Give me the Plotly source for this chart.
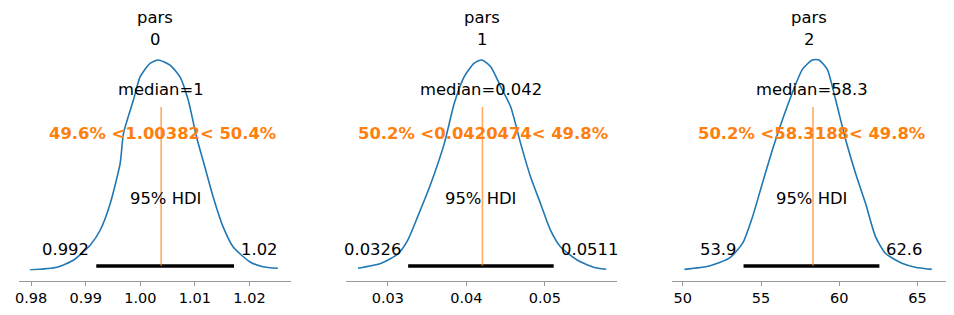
import plotly.graph_objects as go

# ---------------- data ----------------
panel_titles = ["pars<br>0", "pars<br>1", "pars<br>2"]

kde0_x = [0.97976, 0.98474, 0.98779, 0.99084, 0.99266, 0.99449, 0.99631, 0.99692, 0.99874,
          0.99996, 1.00179, 1.00330, 1.00544, 1.00726, 1.00878, 1.01029, 1.01182, 1.01334,
          1.01516, 1.01699, 1.02004, 1.02246, 1.02520]
kde0_y = [0.12, 0.92, 3.09, 7.55, 12.0, 19.9, 31.8, 40.7, 50.6, 57.5, 61.5, 62.5, 61.0,
          57.5, 50.6, 39.7, 30.8, 21.9, 13.0, 7.04, 2.58, 1.10, 0.62]

kde1_x = [0.02620, 0.02915, 0.03127, 0.03254, 0.03380, 0.03549, 0.03719, 0.03846, 0.03973,
          0.04100, 0.04196, 0.04310, 0.04437, 0.04564, 0.04691, 0.04817, 0.04944, 0.05071,
          0.05198, 0.05410, 0.05621, 0.05782]
kde1_y = [0.84, 2.85, 6.59, 12.2, 21.6, 35.0, 51.0, 67.1, 77.8, 83.2, 84.5, 81.8, 73.8,
          65.7, 51.0, 37.6, 26.9, 16.2, 9.52, 4.18, 1.25, 0.44]

kde2_x = [50.10, 51.69, 52.97, 53.82, 54.46, 55.09, 55.73, 56.37, 57.00, 57.64, 58.28, 58.70,
          59.23, 59.76, 60.40, 61.03, 61.67, 62.31, 62.94, 64.00, 64.85, 65.91]
kde2_y = [0.0009, 0.0038, 0.0104, 0.0232, 0.0460, 0.0746, 0.1031, 0.1287, 0.1516, 0.1715,
          0.1795, 0.1795, 0.1715, 0.1458, 0.1116, 0.0831, 0.0574, 0.0288, 0.0146, 0.0061,
          0.0027, 0.0009]

hdi_low = [0.99193, 0.03258, 53.88]
hdi_high = [1.01717, 0.05112, 62.56]
medians = [1.00375, 0.04192, 58.24]
median_labels = ["median=1", "median=0.042", "median=58.3"]
ref_vals = [1.00382, 0.0420474, 58.3188]
means = [1.00398, 0.04215, 58.25]
ref_texts = ["49.6% <1.00382< 50.4%", "50.2% <0.0420474< 49.8%", "50.2% <58.3188< 49.8%"]
hdi_low_labels = ["0.992", "0.0326", "53.9"]
hdi_high_labels = ["1.02", "0.0511", "62.6"]

tick_vals = [[0.98, 0.99, 1.00, 1.01, 1.02], [0.03, 0.04, 0.05], [50, 55, 60, 65]]
tick_text = [["0.98", "0.99", "1.00", "1.01", "1.02"], ["0.03", "0.04", "0.05"],
             ["50", "55", "60", "65"]]
x_ranges = [[0.97776, 1.02763], [0.02465, 0.05924], [49.32, 66.80]]

kde_x = [kde0_x, kde1_x, kde2_x]
kde_y = [kde0_y, kde1_y, kde2_y]

# ---------------- layout constants ----------------
W, H = 954, 315
FONT = "DejaVu Sans"
BLUE = "#1f77b4"
ORANGE = "#ff7f0e"
SPINE = "#999999"
TXT = 16.4
x_domains = [[15 / W, 288.3 / W], [343.3 / W, 616 / W], [671 / W, 945.7 / W]]
y_domain = [(H - 270.4) / H, (H - 52.4) / H]
xaxis_pos = (H - 281) / H

fig = go.Figure()
annotations = []
shapes = []

for i in range(3):
    sfx = "" if i == 0 else str(i + 1)
    xa, ya = "x" + sfx, "y" + sfx
    plot_h = max(kde_y[i]) * 1.036

    fig.add_trace(go.Scatter(x=kde_x[i], y=kde_y[i], mode="lines", xaxis=xa, yaxis=ya,
                             line=dict(color=BLUE, width=1.6, shape="spline", smoothing=0.6),
                             showlegend=False, hoverinfo="skip"))
    fig.add_trace(go.Scatter(x=[hdi_low[i], hdi_high[i]], y=[0.02 * plot_h] * 2, mode="lines",
                             xaxis=xa, yaxis=ya, line=dict(color="black", width=3.4),
                             showlegend=False, hoverinfo="skip"))

    shapes.append(dict(type="line", xref=xa, yref=ya + " domain", x0=ref_vals[i], x1=ref_vals[i],
                       y0=0.02, y1=0.75, line=dict(color=ORANGE, width=1.6), opacity=0.65,
                       layer="above"))

    common = dict(xref=xa, yref=ya, showarrow=False, yanchor="middle", yshift=6)
    annotations.append(dict(x=medians[i], y=0.8 * plot_h, text=median_labels[i],
                            font=dict(family=FONT, size=TXT, color="black"), xanchor="center", **common))
    annotations.append(dict(x=means[i], y=0.6 * plot_h, text="<b>" + ref_texts[i] + "</b>",
                            font=dict(family=FONT, size=TXT, color=ORANGE), xanchor="center", **common))
    annotations.append(dict(x=(hdi_low[i] + hdi_high[i]) / 2, y=0.3 * plot_h, text="95% HDI",
                            font=dict(family=FONT, size=TXT, color="black"), xanchor="center", **common))
    annotations.append(dict(x=hdi_low[i], y=0.07 * plot_h, text=hdi_low_labels[i], xshift=-5,
                            font=dict(family=FONT, size=TXT, color="black"), xanchor="right", **common))
    annotations.append(dict(x=hdi_high[i], y=0.07 * plot_h, text=hdi_high_labels[i], xshift=5,
                            font=dict(family=FONT, size=TXT, color="black"), xanchor="left", **common))

    title_lines = panel_titles[i].split("<br>")
    xc = (x_domains[i][0] + x_domains[i][1]) / 2
    annotations.append(dict(x=xc, y=1 - 17.5 / H, xref="paper", yref="paper", text=title_lines[0],
                            showarrow=False, xanchor="center", yanchor="middle",
                            font=dict(family=FONT, size=TXT, color="black")))
    annotations.append(dict(x=xc, y=1 - 39.9 / H, xref="paper", yref="paper", text=title_lines[1],
                            showarrow=False, xanchor="center", yanchor="middle",
                            font=dict(family=FONT, size=TXT, color="black")))

    fig.layout["xaxis" + sfx] = dict(domain=x_domains[i], range=x_ranges[i], anchor="free",
                                     position=xaxis_pos, showline=True, linecolor=SPINE,
                                     linewidth=1, showgrid=False, zeroline=False,
                                     ticks="outside", ticklen=4, tickcolor=SPINE, tickwidth=1,
                                     tickvals=tick_vals[i], ticktext=tick_text[i],
                                     tickfont=dict(family=FONT, size=14.5, color="black"))
    fig.layout["yaxis" + sfx] = dict(domain=y_domain, range=[0, plot_h], anchor=xa,
                                     visible=False, showgrid=False, zeroline=False)

fig.update_layout(width=W, height=H, margin=dict(l=0, r=0, t=0, b=0),
                  paper_bgcolor="white", plot_bgcolor="white",
                  annotations=annotations, shapes=shapes,
                  font=dict(family=FONT))

fig.write_html("out.html")
